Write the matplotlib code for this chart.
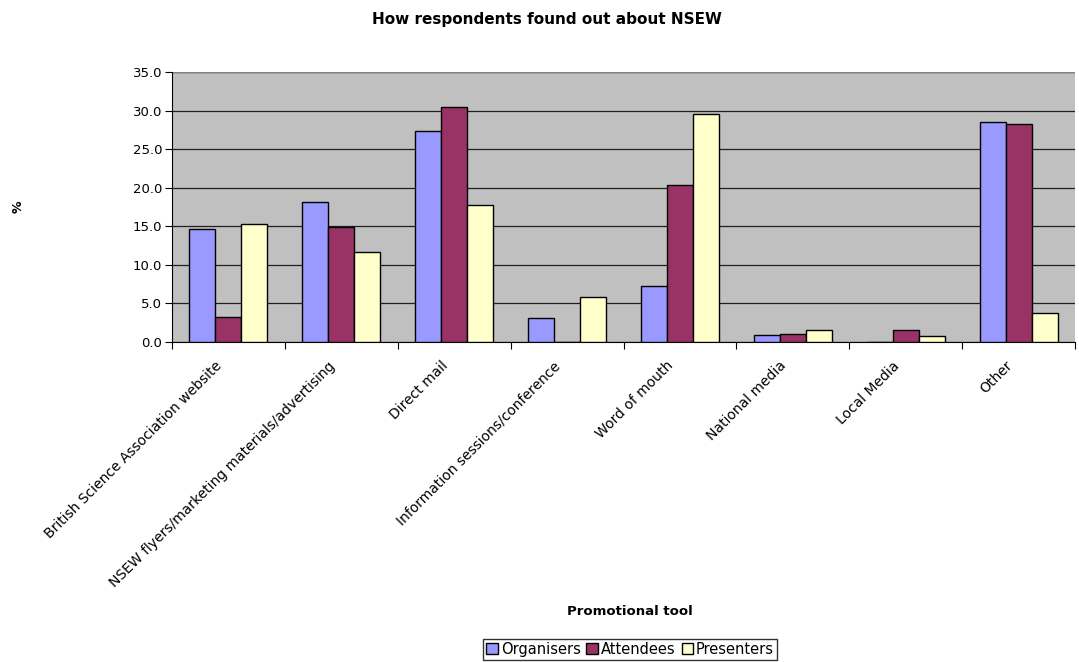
import numpy as np
import matplotlib
matplotlib.use('Agg')
import matplotlib.pyplot as plt

# Survey results (%)
categories = ['British Science Association website',
              'NSEW flyers/marketing materials/advertising',
              'Direct mail',
              'Information sessions/conference',
              'Word of mouth',
              'National media',
              'Local Media',
              'Other']
organisers = [14.6, 18.1, 27.3, 3.1, 7.3, 0.9, 0.0, 28.5]
attendees = [3.3, 14.9, 30.5, 0.0, 20.4, 1.0, 1.6, 28.3]
presenters = [15.3, 11.7, 17.8, 5.8, 29.5, 1.6, 0.8, 3.8]

series = [('Organisers', organisers, '#9999FF'),
          ('Attendees', attendees, '#993366'),
          ('Presenters', presenters, '#FFFFCC')]

plt.rcParams['font.family'] = ['DejaVu Sans']

fig = plt.figure(figsize=(10.79, 6.62), dpi=100)
ax = fig.add_axes([0.1594, 0.4834, 0.9963 - 0.1594, 0.8912 - 0.4834])
ax.set_facecolor('#C0C0C0')

x = np.arange(len(categories))
w = 0.23
for i, (name, vals, col) in enumerate(series):
    ax.bar(x + (i - 1) * w, vals, w, color=col, edgecolor='black',
           linewidth=1.0, label=name, zorder=3)

ax.set_xlim(-0.5, len(categories) - 0.5)
ax.set_ylim(0, 35)
ax.set_yticks(np.arange(0, 35.1, 5))
ax.set_yticklabels([f'{v:.1f}' for v in np.arange(0, 35.1, 5)], fontsize=9.5)
ax.yaxis.grid(True, color='#202020', linewidth=0.9, zorder=1)

# boundaries get the tick marks; labels sit a little left of each centre
ax.set_xticks(np.arange(-0.5, len(categories)), minor=False)
ax.set_xticklabels([])
ax.set_xticks(x - 0.12, minor=True)
ax.set_xticklabels(categories, minor=True, rotation=45, ha='right',
                   rotation_mode='anchor', fontsize=10)
ax.tick_params(axis='x', which='minor', length=0, pad=12)
ax.tick_params(axis='x', which='major', length=5, direction='out')
ax.tick_params(axis='y', length=5, direction='out', pad=2)

for s in ['top', 'right']:
    ax.spines[s].set_visible(False)
ax.spines['left'].set_color('black')
ax.spines['bottom'].set_color('black')
ax.axhline(35, color='#808080', linewidth=1.0, zorder=2)

fig.text(0.5065, 0.971, 'How respondents found out about NSEW',
         ha='center', va='center', fontsize=11, fontweight='bold')
fig.text(0.017, 0.687, '%', rotation=90, ha='center', va='center',
         fontsize=9, fontweight='bold')
fig.text(0.584, 0.077, 'Promotional tool', ha='center', va='center',
         fontsize=9.5, fontweight='bold')

fig.legend(loc='upper center', bbox_to_anchor=(0.584, 0.035), ncol=3,
           fontsize=10.5, frameon=True, fancybox=False, edgecolor='black',
           handlelength=0.8, handleheight=0.8, handletextpad=0.2,
           columnspacing=0.4, borderpad=0.2, borderaxespad=0)

fig.savefig('out.png', dpi=100)
